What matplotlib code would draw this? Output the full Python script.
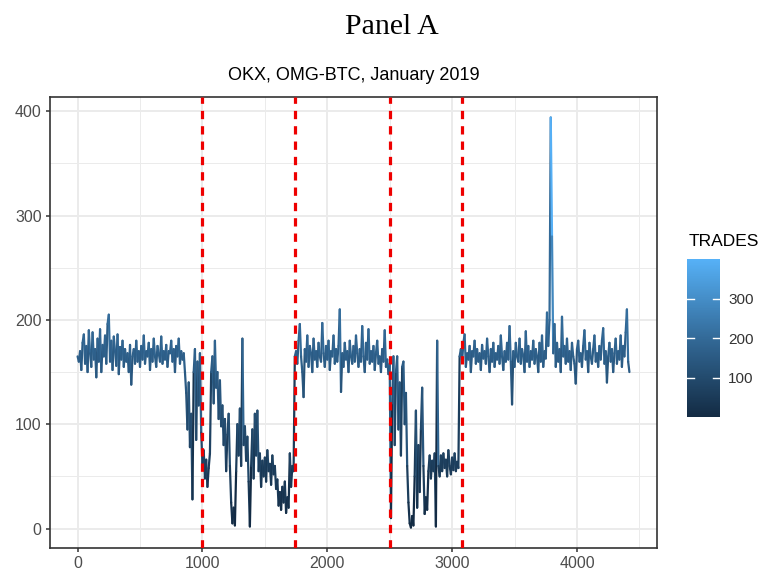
import numpy as np
import matplotlib
matplotlib.use('Agg')
import matplotlib.pyplot as plt
from matplotlib.collections import LineCollection
from matplotlib.colors import LinearSegmentedColormap, Normalize
from matplotlib.cm import ScalarMappable

# trades per interval, sampled every 10 steps, read from the picture
# stable regime 0-860
seg_a = [165, 160, 170, 152, 178, 186, 158, 175, 150, 190,
         168, 155, 188, 162, 172, 145, 182, 160, 191, 150,
         176, 165, 185, 158, 196, 205, 160, 180, 152, 184,
         170, 156, 186, 148, 174, 162, 180, 155, 172, 160,
         168, 150, 176, 138, 165, 172, 158, 180, 160, 170,
         155, 175, 162, 185, 158, 170, 165, 178, 152, 172,
         160, 182, 165, 155, 175, 168, 160, 184, 158, 170,
         162, 176, 155, 170, 168, 180, 160, 172, 150, 175,
         165, 182, 158, 170, 162, 168, 150]
# first disruption 870-1740
seg_b = [130, 95, 140, 78, 110, 28, 150, 172, 85, 160,
         118, 168, 92, 62, 75, 48, 66, 40, 58, 72,
         150, 165, 120, 180, 135, 150, 105, 142, 98, 118,
         80, 105, 55, 90, 110, 60, 25, 5, 20, 3,
         55, 100, 70, 115, 60, 182, 80, 98, 65, 88,
         45, 2, 60, 95, 48, 110, 70, 113, 55, 72,
         40, 65, 50, 68, 45, 75, 55, 62, 42, 70,
         52, 60, 38, 47, 22, 35, 18, 40, 25, 45,
         15, 30, 20, 72, 40, 60, 55, 165]
# stable 1750-2500
seg_c = [170, 158, 180, 196, 165, 150, 126, 172, 160, 185,
         155, 175, 168, 150, 182, 162, 170, 155, 178, 165,
         160, 197, 168, 155, 175, 162, 180, 152, 170, 165,
         185, 158, 172, 160, 175, 210, 131, 168, 155, 178,
         162, 170, 150, 180, 165, 158, 175, 160, 185, 168,
         155, 172, 160, 194, 165, 150, 178, 162, 191, 158,
         170, 160, 175, 152, 168, 180, 158, 165, 150, 172,
         160, 190, 155, 162, 148, 158]
# second disruption 2510-3060
seg_d = [10, 120, 165, 80, 150, 165, 95, 140, 70, 155,
         160, 100, 130, 60, 25, 5, 1, 12, 3, 50,
         113, 20, 80, 35, 95, 135, 60, 14, 30, 18,
         55, 70, 48, 65, 55, 72, 2, 180, 60, 50,
         70, 55, 72, 58, 66, 50, 75, 60, 52, 68,
         56, 72, 55, 64, 58, 165]
# stable 3070-4420
seg_e = [172, 160, 178, 186, 155, 168, 162, 175, 150, 170,
         165, 180, 158, 172, 160, 168, 152, 176, 163, 170,
         158, 182, 165, 150, 172, 160, 178, 155, 168, 162,
         175, 158, 185, 165, 152, 170, 160, 178, 162, 194,
         160, 119, 170, 155, 178, 165, 160, 182, 158, 172,
         165, 150, 189, 160, 175, 155, 170, 162, 180, 158,
         172, 165, 150, 178, 160, 185, 155, 170, 163, 207,
         175, 200, 394, 280, 168, 196, 155, 178, 160, 172,
         150, 203, 165, 175, 158, 182, 160, 170, 152, 178,
         165, 158, 139, 172, 180, 160, 168, 155, 175, 190,
         162, 170, 150, 178, 165, 158, 172, 185, 160, 168,
         155, 175, 162, 180, 192, 158, 170, 140, 165, 178,
         160, 172, 150, 168, 182, 158, 170, 162, 185, 155,
         175, 165, 188, 210, 160, 150]

step = 10
breaks = [1000, 1745, 2505, 3078]   # red dashed lines
x_ticks = [0, 1000, 2000, 3000, 4000]
y_ticks = [0, 100, 200, 300, 400]
cbar_ticks = [100, 200, 300]

trades = np.array(seg_a + seg_b + seg_c + seg_d + seg_e, dtype=float)
t = np.arange(len(trades)) * step

# ggplot default continuous gradient
cmap = LinearSegmentedColormap.from_list('gg', ['#132B43', '#336A98', '#56B1F7'])
norm = Normalize(vmin=0, vmax=400)

fig = plt.figure(figsize=(7.7, 5.77), dpi=100)
ax = fig.add_axes([50/770, 29/577, 607/770, 451/577])

# line coloured by value at segment start, like geom_line
pts = np.column_stack([t, trades])
segs = np.stack([pts[:-1], pts[1:]], axis=1)
lc = LineCollection(segs, cmap=cmap, norm=norm, linewidths=1.6, zorder=3,
                    capstyle='round', joinstyle='round')
lc.set_array(trades[:-1])
ax.add_collection(lc)

for b in breaks:
    ax.axvline(b, color='#EE0000', lw=2.3, ls=(0, (2.6, 2.2)), zorder=4)

xr = t.max() - t.min()
yr = trades.max() - trades.min()
ax.set_xlim(t.min() - 0.05 * xr, t.max() + 0.05 * xr)
ax.set_ylim(trades.min() - 0.05 * yr, trades.max() + 0.05 * yr)

ax.set_xticks(x_ticks)
ax.set_yticks(y_ticks)
ax.set_xticks([500, 1500, 2500, 3500, 4500], minor=True)
ax.set_yticks([50, 150, 250, 350], minor=True)
ax.grid(which='major', color='#EBEBEB', lw=1.4, zorder=0)
ax.grid(which='minor', color='#EBEBEB', lw=0.7, zorder=0)
ax.set_axisbelow(True)
ax.tick_params(which='major', length=3, width=1.1, color='#333333',
               labelsize=11.5, labelcolor='#4D4D4D', pad=3)
ax.tick_params(which='minor', length=0)
for lab in ax.get_xticklabels() + ax.get_yticklabels():
    lab.set_family('Liberation Sans')
for sp in ax.spines.values():
    sp.set_color('#333333')
    sp.set_linewidth(1.2)

fig.text(392/770, 1 - 27/577, 'Panel A', family='Liberation Serif',
         fontsize=21.5, ha='center', va='center')
fig.text(353.5/770, 1 - 75/577, 'OKX, OMG-BTC, January 2019',
         family='Liberation Sans', fontsize=13, ha='center', va='center')

# colour bar legend
cax = fig.add_axes([687/770, 160/577, 33/770, 158/577])
cb = fig.colorbar(ScalarMappable(norm=norm, cmap=cmap), cax=cax)
cb.outline.set_visible(False)
cb.set_ticks(cbar_ticks)
cax.tick_params(length=0, labelsize=11, labelcolor='#333333', pad=6)
for lab in cax.get_yticklabels():
    lab.set_family('Liberation Sans')
for v in cbar_ticks:
    cax.plot([0, 0.2], [v, v], color='white', lw=1, transform=cax.get_yaxis_transform())
    cax.plot([0.8, 1], [v, v], color='white', lw=1, transform=cax.get_yaxis_transform())
fig.text(689/770, 1 - 241/577, 'TRADES', family='Liberation Sans',
         fontsize=12.5, ha='left', va='center')

fig.savefig('out.png', dpi=100)
